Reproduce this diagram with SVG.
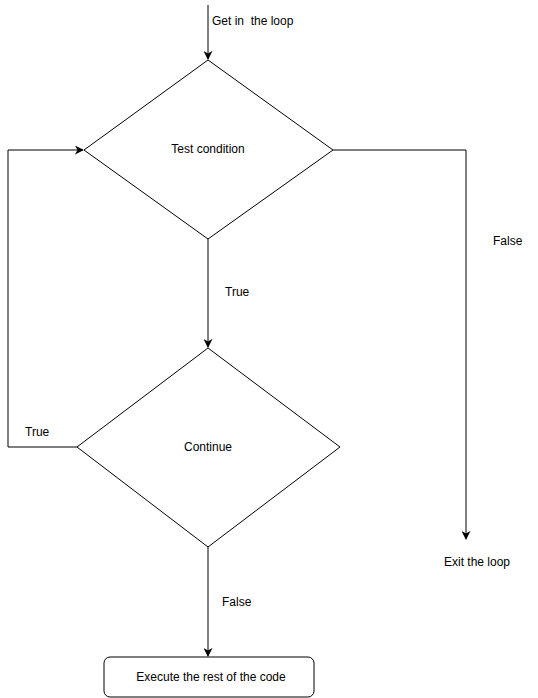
<svg xmlns="http://www.w3.org/2000/svg" width="538" height="698" viewBox="0 0 538 698">
<style>
.shape{fill:#ffffff;stroke:#000000;stroke-width:1}
.edge{fill:none;stroke:#000000;stroke-width:1}
text{font-family:"Liberation Sans",Arial,Helvetica,sans-serif;font-size:12px;fill:#000000;white-space:pre}
.c{text-anchor:middle}
</style>
<defs>
<marker id="arr" viewBox="0 0 10 10" refX="9" refY="5" markerWidth="9" markerHeight="9" markerUnits="userSpaceOnUse" orient="auto">
<path d="M0,0 L10,5 L0,10 L3,5 Z" fill="#000000"/>
</marker>
</defs>
<rect x="0" y="0" width="538" height="698" fill="#ffffff"/>
<g id="connectors">
<path class="edge" d="M208,5 L208,59" stroke="#555555" marker-end="url(#arr)"/>
<path class="edge" d="M208,239 L208,347" marker-end="url(#arr)"/>
<path class="edge" d="M77,447 L8,447 L8,150 L83,150" marker-end="url(#arr)"/>
<path class="edge" d="M333,150 L466,150 L466,539" marker-end="url(#arr)"/>
<path class="edge" d="M208,547 L208,656" marker-end="url(#arr)"/>
</g>
<g id="labels">
<text x="212" y="25" xml:space="preserve">Get in  the loop</text>
<text x="225" y="296">True</text>
<text x="25" y="436">True</text>
<text x="493" y="245">False</text>
<text x="222" y="606">False</text>
<text x="444" y="566">Exit the loop</text>
</g>
<g id="test-condition">
<polygon class="shape" points="208,60 333,150 208,239 84,150"/>
<text class="c" x="208" y="153">Test condition</text>
</g>
<g id="continue">
<polygon class="shape" points="208,348 340,447 208,547 77,447"/>
<text class="c" x="208" y="451">Continue</text>
</g>
<g id="execute">
<rect class="shape" x="104" y="657" width="210" height="40" rx="6" ry="6"/>
<text class="c" x="211" y="681">Execute the rest of the code</text>
</g>
</svg>
